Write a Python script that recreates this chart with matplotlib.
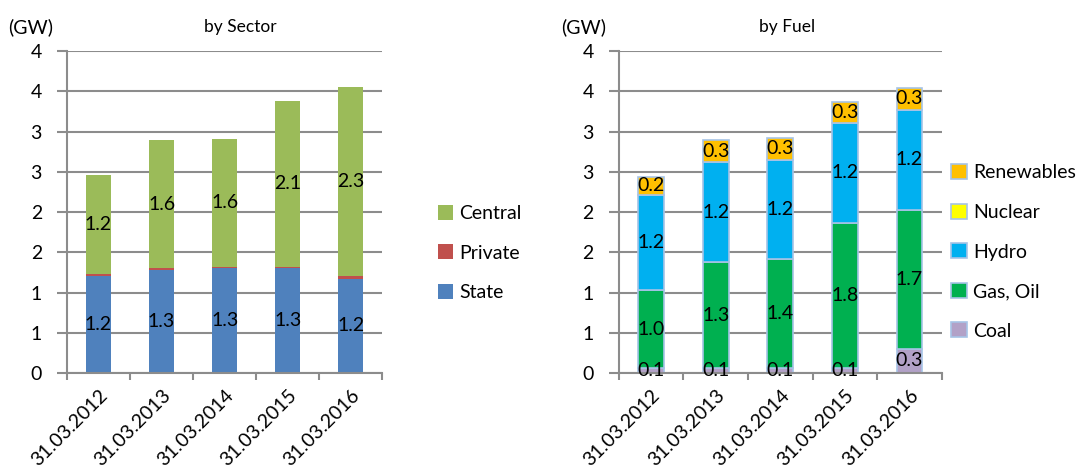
import matplotlib
matplotlib.use("Agg")
import matplotlib.pyplot as plt
import numpy as np

plt.rcParams['font.family'] = ['Lato', 'DejaVu Sans']
plt.rcParams['font.size'] = 14

dates = ['31.03.2012', '31.03.2013', '31.03.2014', '31.03.2015', '31.03.2016']

# by sector (GW)
state = [1.20, 1.28, 1.30, 1.30, 1.17]
private = [0.025, 0.02, 0.02, 0.02, 0.04]
central = [1.23, 1.59, 1.59, 2.06, 2.34]

# by fuel (GW)
coal = [0.06, 0.06, 0.06, 0.06, 0.30]
gas_oil = [0.97, 1.32, 1.36, 1.81, 1.73]
hydro = [1.18, 1.24, 1.23, 1.24, 1.24]
nuclear = [0, 0, 0, 0, 0]
renewables = [0.23, 0.27, 0.27, 0.26, 0.27]

yticks = [0, 0.5, 1, 1.5, 2, 2.5, 3, 3.5, 4]
ytick_labels = ['0', '1', '1', '2', '2', '3', '3', '4', '4']

grid_col = '#8c8c8c'

fig = plt.figure(figsize=(10.8, 4.73), dpi=100)
ax1 = fig.add_axes([0.062, 0.2114, 0.292, 0.6806])
ax2 = fig.add_axes([0.573, 0.2114, 0.299, 0.6806])


def style(ax):
    ax.set_xlim(-0.5, 4.5)
    ax.set_ylim(0, 4)
    ax.set_yticks(yticks)
    ax.set_yticklabels(ytick_labels)
    ax.yaxis.grid(True, color=grid_col, linewidth=1.5)
    ax.set_axisbelow(True)
    for s in ['top', 'right']:
        ax.spines[s].set_visible(False)
    for s in ['left', 'bottom']:
        ax.spines[s].set_color(grid_col)
        ax.spines[s].set_linewidth(1.5)
    ax.tick_params(axis='y', length=7, width=1.5, color=grid_col, pad=11)
    # category ticks between bars
    ax.set_xticks(np.arange(-0.5, 5, 1))
    ax.set_xticklabels([])
    ax.tick_params(axis='x', which='major', length=5, width=1.5, color=grid_col)
    ax.set_xticks(np.arange(5), minor=True)
    ax.set_xticklabels(dates, minor=True, rotation=45, ha='right',
                       rotation_mode='anchor')
    ax.tick_params(axis='x', which='minor', length=0, pad=10)


def stack(ax, series, labels, colors, width, edge, show):
    x = np.arange(len(dates))
    bottom = np.zeros(len(dates))
    handles = []
    for vals, lab, col, sh in zip(series, labels, colors, show):
        vals = np.array(vals, dtype=float)
        bars = ax.bar(x, vals, width, bottom=bottom, color=col, label=lab,
                      edgecolor=edge, linewidth=1.2 if edge else 0)
        if sh:
            for xi, b, v in zip(x, bottom, vals):
                ax.text(xi, b + v / 2, f'{v:.1f}', ha='center', va='center',
                        fontsize=14)
        handles.append(bars)
        bottom = bottom + vals
    return handles


style(ax1)
h1 = stack(ax1, [state, private, central], ['State', 'Private', 'Central'],
           ['#4F81BD', '#C0504D', '#9BBB59'], 0.4, None, [True, False, True])
ax1.legend(h1[::-1], ['Central', 'Private', 'State'], loc='center left',
           bbox_to_anchor=(1.175, 0.373), frameon=False, borderpad=0,
           borderaxespad=0, handlelength=0.8, handleheight=0.8,
           handletextpad=0.3, labelspacing=1.15)

style(ax2)
h2 = stack(ax2, [coal, gas_oil, hydro, nuclear, renewables],
           ['Coal', 'Gas, Oil', 'Hydro', 'Nuclear', 'Renewables'],
           ['#B2A1C7', '#00B050', '#00B0F0', '#FFFF00', '#FFC000'],
           0.4, '#A6C3E6', [True, True, True, False, True])
ax2.legend(h2[::-1], ['Renewables', 'Nuclear', 'Hydro', 'Gas, Oil', 'Coal'],
           loc='center left', bbox_to_anchor=(1.03, 0.376), frameon=False,
           borderpad=0, borderaxespad=0, handlelength=0.8, handleheight=0.8,
           handletextpad=0.3, labelspacing=1.15)

fig.text(8 / 1080, 1 - 27 / 473, '(GW)', ha='left', va='center', fontsize=14)
fig.text(561 / 1080, 1 - 27 / 473, '(GW)', ha='left', va='center', fontsize=14)
fig.text(240 / 1080, 1 - 27 / 473, 'by Sector', ha='center', va='center', fontsize=12.5)
fig.text(787 / 1080, 1 - 27 / 473, 'by Fuel', ha='center', va='center', fontsize=12.5)

fig.savefig('out.png', dpi=100)
